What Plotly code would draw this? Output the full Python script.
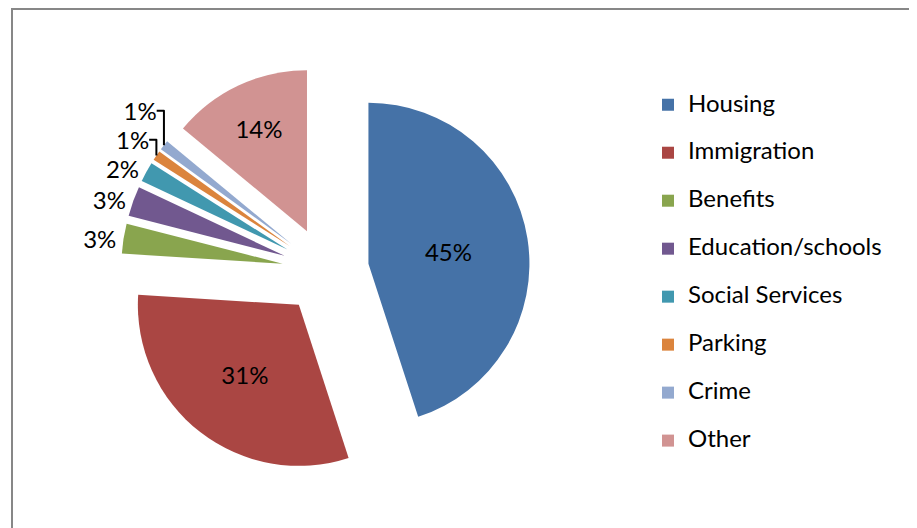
import plotly.graph_objects as go

categories = ["Housing", "Immigration", "Benefits", "Education/schools",
              "Social Services", "Parking", "Crime", "Other"]
values = [45, 31, 3, 3, 2, 1, 1, 14]
colors = ["#4572A7", "#AA4643", "#89A54E", "#71588F",
          "#4198AF", "#DB843D", "#93A9CF", "#D19392"]
text_positions = ["inside", "inside", "outside", "outside",
                  "outside", "outside", "outside", "inside"]

# page is offset by the 8px body margin, so the figure is 8px smaller
W, H = 909, 520
FONT = "Lato, Open Sans, sans-serif"

# pie geometry (figure pixels)
cx, cy, R, PULL = 317.5, 262.5, 161, 0.27
half = R * (1 + PULL)

legend_labels = [
    '<span style="font-size:24px">%s</span><br> ' % c for c in categories
]

fig = go.Figure()
fig.add_trace(go.Pie(
    labels=legend_labels,
    values=values,
    sort=False,
    direction="clockwise",
    rotation=0,
    pull=PULL,
    marker=dict(colors=colors, line=dict(width=0)),
    texttemplate="%{percent:.0%}",
    textposition=text_positions,
    insidetextorientation="horizontal",
    textfont=dict(family=FONT, size=24, color="#000000"),
    domain=dict(x=[(cx - half) / W, (cx + half) / W],
                y=[(H - cy - half) / H, (H - cy + half) / H]),
    hovertext=categories,
    hoverinfo="text+percent",
))

fig.update_layout(
    width=W, height=H,
    margin=dict(l=0, r=0, t=0, b=0, autoexpand=False),
    paper_bgcolor="white",
    plot_bgcolor="white",
    font=dict(family=FONT, size=24, color="#000000"),
    showlegend=True,
    legend=dict(x=640 / W, y=1 - 79 / H, xanchor="left", yanchor="top",
                valign="top", font=dict(family=FONT, size=17.3, color="#000000"),
                bgcolor="rgba(0,0,0,0)"),
    shapes=[dict(type="rect", xref="paper", yref="paper",
                 x0=4 / W, x1=904 / W, y0=-0.05, y1=1 - 1 / H,
                 line=dict(color="#878787", width=2), fillcolor="rgba(0,0,0,0)")],
)

fig.write_html("out.html")
